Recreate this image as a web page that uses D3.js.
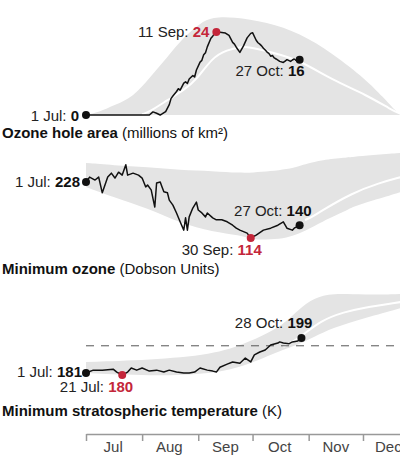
<!DOCTYPE html>
<html>
<head>
<meta charset="utf-8">
<script src="https://cdn.jsdelivr.net/npm/d3@7"></script>
<style>
body{margin:0;background:#fff;}
svg{display:block;font-family:"Liberation Sans",Arial,sans-serif;}
</style>
</head>
<body>
<script>
////////////////////////////////////////////////////////////////////////////////
//Data
////////////////////////////////////////////////////////////////////////////////

////Ozone hole area (millions of km2)
var areaDates = ["07-01","08-05","08-07","08-09","08-11","08-12","08-14","08-16","08-17","08-18","08-20","08-21","08-22","08-24","08-25","08-26","08-27","08-29","08-30","08-31","09-02","09-03","09-04","09-05","09-06","09-08","09-09","09-10","09-11","09-13","09-16","09-18","09-19","09-20","09-21","09-22","09-24","09-26","09-28","09-30","10-01","10-03","10-04","10-05","10-06","10-07","10-08","10-09","10-10","10-11","10-12","10-13","10-14","10-16","10-18","10-19","10-20","10-22","10-23","10-24","10-25","10-27"]
var areaValues = [0,0,0.9,0.5,0,0.3,1.0,3.0,4.8,5.5,6.8,7.6,7.2,9.2,9.6,9.1,10.4,11.4,11.0,13.0,15.3,15.8,17.4,18.0,19.7,22.2,22.8,23.6,24,23.9,23.7,23.0,22.0,21.0,20.5,19.6,18.1,20.0,22.3,23.6,23.8,21.6,20.9,20.5,20.0,19.3,18.8,18.2,17.8,17.0,17.2,16.5,16.2,15.5,15.2,15.6,16.0,15.5,15.9,16.2,15.8,16]
var areaBandDates = ["07-01","07-08","07-17","07-27","08-05","08-15","08-24","09-02","09-09","09-20","10-09","10-27","11-14","12-03","12-12","12-20","12-22"]
var areaBandMax = [0,0.8,2.9,5.2,10.7,16.8,22.5,26.6,28.3,28.4,26.9,23.7,17.9,10.1,5.2,0.6,0]
var areaMeanDates = ["08-01","08-05","08-15","08-24","08-31","09-09","09-17","09-24","09-29","10-11","10-27","11-14","12-03","12-17","12-22"]
var areaMeanValues = [0.2,0.9,4.3,7.2,10.1,16.8,18.8,19.7,19.7,18.2,15.9,10.1,5.8,1.4,0.3]

////Minimum ozone (Dobson Units)
var ozoneDates = ["07-01","07-03","07-06","07-08","07-10","07-13","07-15","07-17","07-19","07-21","07-23","07-24","07-27","07-30","08-01","08-03","08-04","08-06","08-08","08-09","08-11","08-12","08-13","08-15","08-16","08-18","08-20","08-22","08-24","08-25","08-26","08-27","08-29","08-31","09-01","09-03","09-05","09-06","09-09","09-11","09-14","09-17","09-20","09-22","09-24","09-28","09-30","10-03","10-07","10-11","10-15","10-18","10-20","10-23","10-24","10-27"]
var ozoneValues = [228,238,232,238,206,238,246,236,248,242,263,242,246,242,236,218,222,212,177,226,228,218,208,206,191,181,165,147,130,155,130,157,175,187,171,165,157,165,155,151,151,147,140,134,130,124,114,120,130,134,140,147,134,130,134,140]
var ozoneBandDates = ["07-01","07-16","08-04","08-22","09-09","09-24","10-01","10-11","10-20","10-27","10-31","11-08","11-22","11-25","12-06","12-22"]
var ozoneBandMin = [217.8,197.5,175,144.5,126.2,120,110,111,114,124,130,146.6,170,177,190,207.6]
var ozoneBandMax = [266.7,262,258.5,252,250.4,246.3,247,250,254,260.6,265,272.8,278,279,283,287]
var ozoneMeanDates = ["10-30","11-03","11-07","11-25","12-10","12-22"]
var ozoneMeanValues = [150.6,156.7,167,205.6,226,238]

////Minimum stratospheric temperature (K)
var tempDates = ["07-01","07-05","07-10","07-16","07-18","07-21","07-24","07-26","07-29","08-01","08-05","08-09","08-13","08-16","08-20","08-24","08-27","08-30","09-02","09-06","09-09","09-11","09-13","09-17","09-20","09-24","09-27","09-30","10-02","10-05","10-08","10-11","10-15","10-16","10-18","10-21","10-23","10-26","10-28"]
var tempValues = [181,182.5,182.5,183,181.5,180,181.5,183.6,182.5,183.6,182,182.5,181.5,182.5,181.5,181,181,181.5,183.6,182.5,182,181.5,184,185.6,186.7,186,188.7,186.7,190.3,191.8,192.8,195.4,196.4,197,196.4,196,197,197.5,199]
var tempBandDates = ["07-01","08-05","09-09","09-28","10-17","10-26","11-04","11-14","12-02","12-22"]
var tempBandMin = [181,179.5,180.5,185,192.8,195.4,199.5,204.1,209.3,214.4]
var tempBandMax = [186.7,187.7,190.3,196.4,204.7,213.4,219.6,222.1,221.1,221.6]
var tempMeanDates = ["10-18","10-27","11-08","11-21","11-30","12-22"]
var tempMeanValues = [194.4,199,208.3,212.4,214.4,217.5]
var tempThreshold = 195

////Axis months
var monthStarts = ["07-01","08-01","09-01","10-01","11-01","12-01"]
var monthMids = ["07-16","08-16","09-16","10-16","11-16","12-15"]
var monthNames = ["Jul","Aug","Sep","Oct","Nov","Dec"]

////////////////////////////////////////////////////////////////////////////////
//Drawing
////////////////////////////////////////////////////////////////////////////////

var parse = d3.timeParse("%m-%d")
var fmt = d3.timeFormat("%-d %b")
var red = "#c4263a"
var bandGrey = "#e4e4e4"

var svg = d3.select("body").append("svg").attr("width",400).attr("height",456)

//Shared time scale
var x = d3.scaleTime().domain([parse("07-01"),parse("12-22")]).range([86,401])

//Turning paired arrays into point lists
function zip(dates,values){
    return dates.map(function(d,i){return {date:parse(d),value:values[i]}})
}
function zipBand(dates,lo,hi){
    return dates.map(function(d,i){return {date:parse(d),lo:lo?lo[i]:0,hi:hi[i]}})
}

//Draws one panel: band, mean line, series line and dots
function panel(y,series,band,mean){
    var g = svg.append("g")
    g.append("path").datum(band) //grey range of past years
        .attr("fill",bandGrey)
        .attr("d",d3.area().curve(d3.curveBasis).x(function(d){return x(d.date)}).y0(function(d){return y(d.lo)}).y1(function(d){return y(d.hi)}))
    g.append("path").datum(mean) //white average line
        .attr("fill","none").attr("stroke","#fff").attr("stroke-width",2)
        .attr("d",d3.line().curve(d3.curveBasis).x(function(d){return x(d.date)}).y(function(d){return y(d.value)}))
    g.append("path").datum(series) //this year
        .attr("fill","none").attr("stroke","#111").attr("stroke-width",1.5).attr("stroke-linejoin","round")
        .attr("d",d3.line().x(function(d){return x(d.date)}).y(function(d){return y(d.value)}))
    return g
}

//Adds a dot with a "date: value" label
function callout(g,y,d,colour,dx,dy){
    g.append("circle").attr("cx",x(d.date)).attr("cy",y(d.value)).attr("r",4).attr("fill",colour)
    var t = g.append("text").attr("x",x(d.date)+dx).attr("y",y(d.value)+dy)
        .attr("text-anchor","end").attr("font-size",15).attr("fill","#222")
    t.append("tspan").text(fmt(d.date)+": ")
    t.append("tspan").attr("font-weight","bold").attr("fill",colour=="#111"?"#111":colour).text(d.value)
}

//Adds the bold + normal panel title
function title(yPos,bold,normal){
    var t = svg.append("text").attr("x",2).attr("y",yPos).attr("font-size",15).attr("fill","#111")
    t.append("tspan").attr("font-weight","bold").text(bold)
    t.append("tspan").text(" "+normal)
}

////Panel 1 - ozone hole area
var yArea = d3.scaleLinear().domain([0,24]).range([115,32])
var area = zip(areaDates,areaValues)
var g1 = panel(yArea,area,zipBand(areaBandDates,null,areaBandMax),zip(areaMeanDates,areaMeanValues))
callout(g1,yArea,area[0],"#111",-7,6)
callout(g1,yArea,area[d3.maxIndex(area,function(d){return d.value})],red,-7,5)
callout(g1,yArea,area[area.length-1],"#111",5,16)
title(138,"Ozone hole area","(millions of km²)")

////Panel 2 - minimum ozone
var yOzone = d3.scaleLinear().domain([114,228]).range([238,182])
var ozone = zip(ozoneDates,ozoneValues)
var g2 = panel(yOzone,ozone,zipBand(ozoneBandDates,ozoneBandMin,ozoneBandMax),zip(ozoneMeanDates,ozoneMeanValues))
callout(g2,yOzone,ozone[0],"#111",-6,5)
callout(g2,yOzone,ozone[d3.minIndex(ozone,function(d){return d.value})],red,11,17)
callout(g2,yOzone,ozone[ozone.length-1],"#111",12,-9)
title(274,"Minimum ozone","(Dobson Units)")

////Panel 3 - minimum stratospheric temperature
var yTemp = d3.scaleLinear().domain([180,199]).range([375,338])
var temp = zip(tempDates,tempValues)
var g3 = panel(yTemp,temp,zipBand(tempBandDates,tempBandMin,tempBandMax),zip(tempMeanDates,tempMeanValues))
g3.insert("line","path:nth-child(3)") //dashed threshold line, under the series
    .attr("x1",x.range()[0]).attr("x2",x.range()[1])
    .attr("y1",yTemp(tempThreshold)).attr("y2",yTemp(tempThreshold))
    .attr("stroke","#555").attr("stroke-width",1).attr("stroke-dasharray","8,7")
callout(g3,yTemp,temp[0],"#111",-4,4)
callout(g3,yTemp,temp[d3.minIndex(temp,function(d){return d.value})],red,11,17)
callout(g3,yTemp,temp[temp.length-1],"#111",11,-10)
title(416,"Minimum stratospheric temperature","(K)")

////Month axis
var axis = svg.append("g").attr("transform","translate(0,434)")
    .call(d3.axisBottom(x).tickValues(monthStarts.map(parse)).tickSize(7).tickSizeOuter(0).tickFormat(""))
axis.select(".domain").attr("stroke","#999").attr("stroke-width",1.5)
axis.selectAll(".tick line").attr("stroke","#999").attr("stroke-width",1.5)

svg.selectAll(".month").data(monthNames).enter().append("text")
    .attr("class","month")
    .attr("x",function(d,i){return x(parse(monthMids[i]))})
    .attr("y",452)
    .attr("text-anchor","middle").attr("font-size",15).attr("fill","#444")
    .text(function(d){return d})
</script>
</body>
</html>
